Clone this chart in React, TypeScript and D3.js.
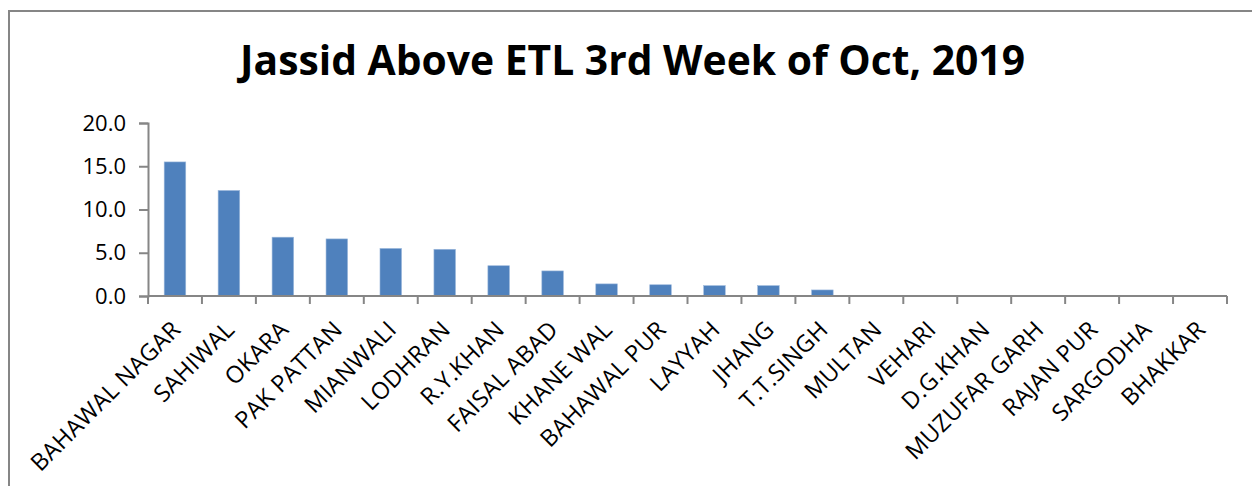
import React, { useEffect, useRef } from 'react';
import * as d3 from 'd3';

const title = 'Jassid Above ETL 3rd Week of Oct, 2019';
const districts = [
  'BAHAWAL NAGAR', 'SAHIWAL', 'OKARA', 'PAK PATTAN', 'MIANWALI', 'LODHRAN',
  'R.Y.KHAN', 'FAISAL ABAD', 'KHANE WAL', 'BAHAWAL PUR', 'LAYYAH', 'JHANG',
  'T.T.SINGH', 'MULTAN', 'VEHARI', 'D.G.KHAN', 'MUZUFAR GARH', 'RAJAN PUR',
  'SARGODHA', 'BHAKKAR',
];
const jassid = [15.5, 12.2, 6.8, 6.6, 5.5, 5.4, 3.5, 2.9, 1.4, 1.3, 1.2, 1.2, 0.7, 0, 0, 0, 0, 0, 0, 0];
const yTicks = [0, 5, 10, 15, 20];

const App = () => {
  const ref = useRef<SVGSVGElement | null>(null);

  useEffect(() => {
    const width = 1252;
    const height = 486;
    const margin = { top: 123, right: 25, bottom: 190, left: 148 };
    const font = '"Open Sans", sans-serif';
    const axisColor = '#868686';

    const svg = d3.select(ref.current);
    svg.selectAll('*').remove();

    // chart border
    svg
      .append('rect')
      .attr('x', 9)
      .attr('y', 11)
      .attr('width', width)
      .attr('height', height)
      .attr('fill', 'none')
      .attr('stroke', axisColor)
      .attr('stroke-width', 2);

    svg
      .append('text')
      .attr('x', 240)
      .attr('y', 75)
      .attr('textLength', 785)
      .attr('lengthAdjust', 'spacingAndGlyphs')
      .attr('font-family', font)
      .attr('font-weight', 'bold')
      .attr('font-size', 42)
      .attr('fill', '#000')
      .text(title);

    const x = d3
      .scaleBand()
      .domain(districts)
      .range([margin.left, width - margin.right])
      .paddingInner(0.6)
      .paddingOuter(0.3);

    const y = d3
      .scaleLinear()
      .domain([0, 20])
      .range([height - margin.bottom, margin.top]);

    // bars
    svg
      .append('g')
      .selectAll('rect')
      .data(jassid)
      .enter()
      .append('rect')
      .attr('x', (d, i) => x(districts[i]) as number)
      .attr('y', (d) => y(d))
      .attr('width', x.bandwidth())
      .attr('height', (d) => y(0) - y(d))
      .attr('fill', '#4F81BD')
      .attr('stroke', '#9DB9DC')
      .attr('stroke-width', 0.6);

    // y axis
    const yAxis = d3
      .axisLeft(y)
      .tickValues(yTicks)
      .tickSize(9)
      .tickPadding(13)
      .tickFormat((d) => d3.format('.1f')(d as number));

    const gy = svg
      .append('g')
      .attr('transform', `translate(${margin.left},0)`)
      .call(yAxis);
    gy.select('.domain').attr('stroke', axisColor).attr('stroke-width', 2);
    gy.selectAll('line').attr('stroke', axisColor).attr('stroke-width', 2);
    gy.selectAll('text')
      .attr('font-family', font)
      .attr('font-size', 22)
      .attr('fill', '#000');

    // x axis: line plus ticks at category boundaries
    const step = x.step();
    const x0 = margin.left;
    const gx = svg.append('g');
    gx.append('line')
      .attr('x1', x0)
      .attr('x2', width - margin.right)
      .attr('y1', y(0))
      .attr('y2', y(0))
      .attr('stroke', axisColor)
      .attr('stroke-width', 2);
    gx.selectAll('line.tick')
      .data(d3.range(districts.length + 1))
      .enter()
      .append('line')
      .attr('class', 'tick')
      .attr('x1', (i) => x0 + i * step)
      .attr('x2', (i) => x0 + i * step)
      .attr('y1', y(0))
      .attr('y2', y(0) + 8)
      .attr('stroke', axisColor)
      .attr('stroke-width', 2);

    gx.selectAll('text')
      .data(districts)
      .enter()
      .append('text')
      .attr(
        'transform',
        (d) => `translate(${(x(d) as number) + x.bandwidth() / 2 + 7},${y(0) + 35}) rotate(-45)`
      )
      .attr('text-anchor', 'end')
      .attr('font-family', font)
      .attr('font-size', 23.5)
      .attr('letter-spacing', 0.3)
      .attr('fill', '#000')
      .text((d) => d);
  }, []);

  return <svg ref={ref} width={1252} height={486} style={{ display: 'block', position: 'absolute', left: 0, top: 0 }} />;
};

export default App;
